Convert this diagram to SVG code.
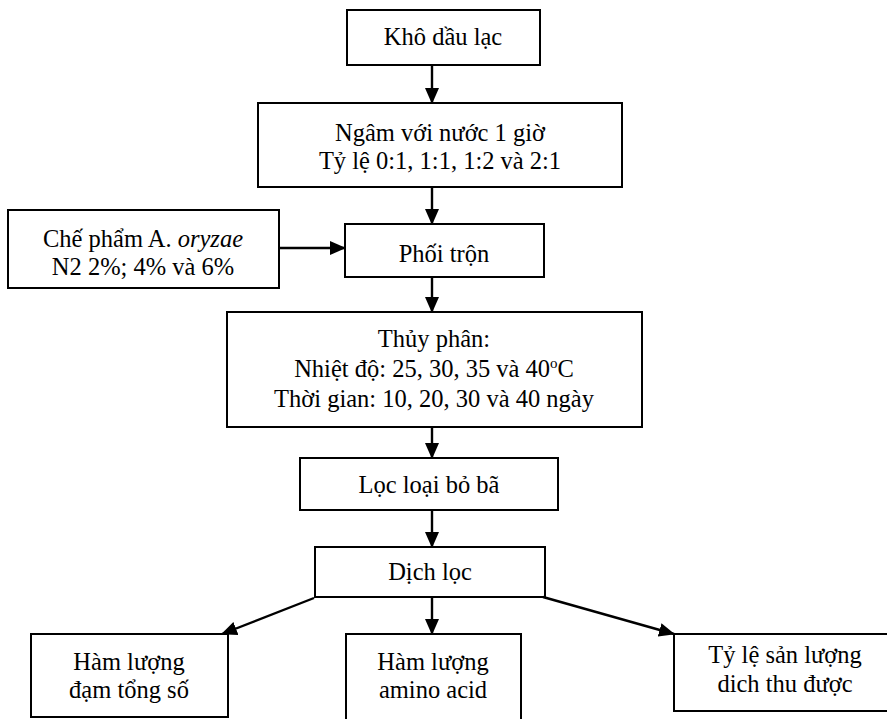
<svg xmlns="http://www.w3.org/2000/svg" width="887" height="719" viewBox="0 0 887 719">
<style>
.box{fill:#fff;stroke:#000;stroke-width:2}
.t{font-family:"Liberation Serif","Times New Roman",serif;font-size:24.5px;fill:#000;text-anchor:middle}
.c{stroke:#000;stroke-width:2.4;fill:none}
</style>
<defs>
<marker id="ah" viewBox="0 0 16 14" refX="15" refY="7" markerWidth="16" markerHeight="14" markerUnits="userSpaceOnUse" orient="auto">
<path d="M0,0 L16,7 L0,14 Z" fill="#000"/>
</marker>
</defs>
<rect width="887" height="719" fill="#fff"/>
<g id="n1"><rect class="box" x="347" y="10" width="193" height="55"/><text class="t" x="443" y="45">Khô dầu lạc</text></g>
<g id="n2"><rect class="box" x="258" y="103" width="364" height="84"/><text class="t" x="440" y="141">Ngâm với nước 1 giờ</text><text class="t" x="440" y="169">Tỷ lệ 0:1, 1:1, 1:2 và 2:1</text></g>
<g id="n3"><rect class="box" x="8" y="210" width="271" height="78"/><text class="t" x="143" y="247">Chế phẩm A. <tspan font-style="italic">oryzae</tspan></text><text class="t" x="143" y="275">N2 2%; 4% và 6%</text></g>
<g id="n4"><rect class="box" x="345" y="224" width="199" height="53"/><text class="t" x="444" y="262">Phối trộn</text></g>
<g id="n5"><rect class="box" x="227" y="312" width="415" height="115"/><text class="t" x="434" y="347">Thủy phân:</text><text class="t" x="434" y="377">Nhiệt độ: 25, 30, 35 và 40<tspan font-size="15" dy="-9">o</tspan><tspan dy="9">C</tspan></text><text class="t" x="434" y="407">Thời gian: 10, 20, 30 và 40 ngày</text></g>
<g id="n6"><rect class="box" x="300" y="458" width="258" height="52"/><text class="t" x="429" y="493">Lọc loại bỏ bã</text></g>
<g id="n7"><rect class="box" x="315" y="547" width="230" height="50"/><text class="t" x="430" y="580">Dịch lọc</text></g>
<g id="n8"><rect class="box" x="31" y="634" width="197" height="83"/><text class="t" x="129" y="670">Hàm lượng</text><text class="t" x="129" y="698">đạm tổng số</text></g>
<g id="n9"><rect class="box" x="346" y="634" width="175" height="95"/><text class="t" x="433" y="670">Hàm lượng</text><text class="t" x="433" y="698">amino acid</text></g>
<g id="n10"><rect class="box" x="674" y="634" width="225" height="77"/><text class="t" x="785" y="663">Tỷ lệ sản lượng</text><text class="t" x="785" y="692">dich thu được</text></g>
<g id="connectors">
<line class="c" x1="432" y1="65" x2="432" y2="103" marker-end="url(#ah)"/>
<line class="c" x1="432" y1="187" x2="432" y2="224" marker-end="url(#ah)"/>
<line class="c" x1="279" y1="248" x2="345" y2="248" marker-end="url(#ah)"/>
<line class="c" x1="432" y1="277" x2="432" y2="312" marker-end="url(#ah)"/>
<line class="c" x1="432" y1="427" x2="432" y2="458" marker-end="url(#ah)"/>
<line class="c" x1="432" y1="510" x2="432" y2="547" marker-end="url(#ah)"/>
<line class="c" x1="314" y1="598" x2="222" y2="634" marker-end="url(#ah)"/>
<line class="c" x1="432" y1="597" x2="432" y2="634" marker-end="url(#ah)"/>
<line class="c" x1="543" y1="597" x2="674" y2="634" marker-end="url(#ah)"/>
</g>
</svg>
